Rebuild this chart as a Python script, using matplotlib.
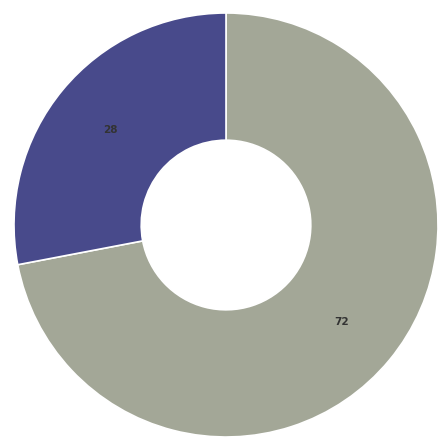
import matplotlib
matplotlib.use("Agg")
import matplotlib.pyplot as plt

categories = ["A", "B"]
values = [72, 28]
colors = ["#a3a797", "#484a8b"]

fig = plt.figure(figsize=(4.39, 4.39), dpi=100)
ax = fig.add_axes([0, 0, 1, 1])
wedges, texts = ax.pie(values, labels=[str(v) for v in values], colors=colors,
                       startangle=90, counterclock=False, labeldistance=0.71,
                       wedgeprops=dict(width=0.6, edgecolor="white", linewidth=1.2),
                       textprops=dict(fontsize=7.5, fontweight="bold", color="#333333",
                                      ha="center", va="center"))
ax.set_xlim(-226/212, 213/212)
ax.set_ylim(-213/212, 226/212)
ax.set_aspect("equal")
ax.axis("off")
fig.savefig("out.png", dpi=100)
